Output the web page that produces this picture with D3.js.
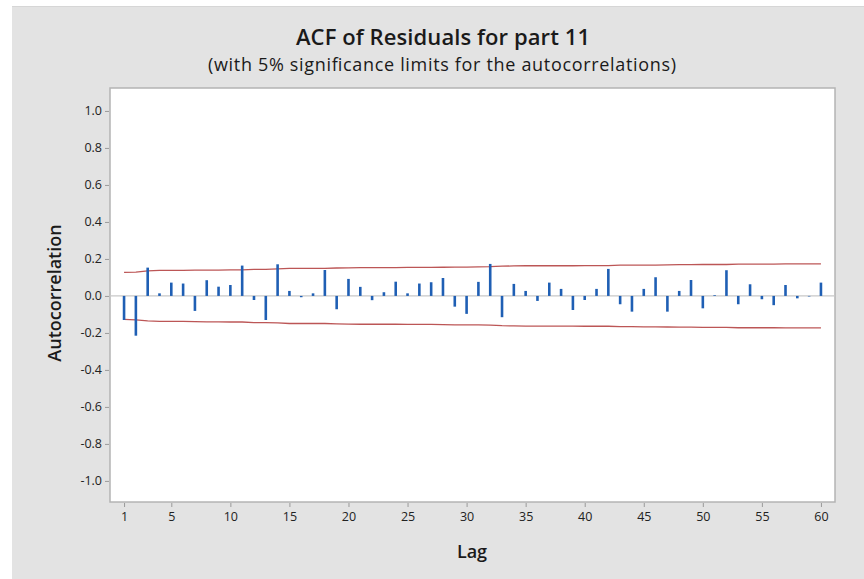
<!DOCTYPE html>
<html>
<head>
<meta charset="utf-8">
<script src="https://cdn.jsdelivr.net/npm/d3@7"></script>
<style>
  html, body { margin: 0; padding: 0; background: #ffffff; }
  svg { display: block; }
  text { font-family: "Open Sans", "Noto Sans", sans-serif; }
</style>
</head>
<body>
<svg id="chart" width="864" height="579"></svg>
<script>
// Residual autocorrelations by lag
const lags = d3.range(1, 61);
const acf = [
  -0.130, -0.215,  0.153,  0.014,  0.072,  0.067, -0.081,  0.085,  0.050,  0.059,
   0.164, -0.022, -0.130,  0.171,  0.027, -0.007,  0.014,  0.140, -0.072,  0.092,
   0.049, -0.023,  0.020,  0.077,  0.014,  0.067,  0.074,  0.097, -0.058, -0.097,
   0.076,  0.173, -0.115,  0.065,  0.027, -0.027,  0.072,  0.038, -0.076, -0.022,
   0.038,  0.146, -0.045, -0.085,  0.038,  0.101, -0.085,  0.027,  0.086, -0.067,
   0.004,  0.139, -0.045,  0.063, -0.018, -0.050,  0.059, -0.013, -0.003,  0.072
];
// 5% significance limit (upper; lower is its negative) at each lag
const limit = [
  0.127, 0.129, 0.135, 0.138, 0.138, 0.138, 0.139, 0.140, 0.140, 0.141,
  0.141, 0.144, 0.144, 0.146, 0.149, 0.149, 0.149, 0.149, 0.151, 0.152,
  0.153, 0.153, 0.153, 0.153, 0.154, 0.154, 0.154, 0.155, 0.156, 0.156,
  0.157, 0.158, 0.161, 0.162, 0.163, 0.163, 0.163, 0.163, 0.163, 0.164,
  0.164, 0.164, 0.166, 0.166, 0.167, 0.167, 0.168, 0.169, 0.169, 0.170,
  0.170, 0.170, 0.172, 0.172, 0.172, 0.172, 0.173, 0.173, 0.173, 0.173
];
const xTicks = [1, 5, 10, 15, 20, 25, 30, 35, 40, 45, 50, 55, 60];
const yTicks = [-1.0, -0.8, -0.6, -0.4, -0.2, 0.0, 0.2, 0.4, 0.6, 0.8, 1.0];

const titleText = "ACF of Residuals for part 11";
const subtitleText = "(with 5% significance limits for the autocorrelations)";
const xLabel = "Lag";
const yLabel = "Autocorrelation";

const svg = d3.select("#chart");
const W = 864, H = 579;
const plot = { left: 110, top: 88, right: 835, bottom: 502 };

// Outer gray frame
svg.append("rect").attr("x", 12).attr("y", 6).attr("width", W - 12).attr("height", H - 6)
  .attr("fill", "#e3e3e3");
svg.append("line").attr("x1", 12).attr("x2", W).attr("y1", 6.5).attr("y2", 6.5)
  .attr("stroke", "#d6d6d6").attr("stroke-width", 1);

const x = d3.scaleLinear().domain([-0.19, 61.19]).range([plot.left, plot.right]);
const y = d3.scaleLinear().domain([-1.114, 1.124]).range([plot.bottom, plot.top]);

// Plot panel
svg.append("rect")
  .attr("x", plot.left).attr("y", plot.top)
  .attr("width", plot.right - plot.left).attr("height", plot.bottom - plot.top)
  .attr("fill", "#ffffff").attr("stroke", "#b4b4b4").attr("stroke-width", 1.5);

// Axes (plain hyphen for negative labels)
const fmt1 = d => d3.format(".1f")(d).replace("\u2212", "-");
const yAxis = d3.axisLeft(y).tickValues(yTicks).tickFormat(fmt1).tickSize(4).tickPadding(3);
const gy = svg.append("g").attr("transform", `translate(${plot.left - 1},0)`).call(yAxis);
const xAxis = d3.axisBottom(x).tickValues(xTicks).tickFormat(d3.format("d")).tickSize(4).tickPadding(5);
const gx = svg.append("g").attr("transform", `translate(0,${plot.bottom + 1})`).call(xAxis);
[gx, gy].forEach(g => {
  g.select(".domain").remove();
  g.selectAll(".tick line").attr("stroke", "#9a9a9a");
  g.selectAll(".tick text").attr("fill", "#222222").style("font-size", "12.5px")
    .style("font-family", "'Open Sans', sans-serif");
});

// Zero reference line
svg.append("line")
  .attr("x1", plot.left).attr("x2", plot.right)
  .attr("y1", y(0)).attr("y2", y(0))
  .attr("stroke", "#c8c8c8").attr("stroke-width", 1.2);

// Significance limits
const limLine = d3.line().x((d, i) => x(lags[i]));
svg.append("path")
  .attr("d", limLine.y(d => y(d))(limit))
  .attr("fill", "none").attr("stroke", "#b03838").attr("stroke-width", 1.3).attr("opacity", 0.85);
svg.append("path")
  .attr("d", limLine.y(d => y(-d))(limit))
  .attr("fill", "none").attr("stroke", "#b03838").attr("stroke-width", 1.3).attr("opacity", 0.85);

// Autocorrelation spikes
svg.append("g").selectAll("line").data(acf).join("line")
  .attr("x1", (d, i) => x(lags[i])).attr("x2", (d, i) => x(lags[i]))
  .attr("y1", y(0)).attr("y2", d => y(d))
  .attr("stroke", "#1f5fb4").attr("stroke-width", 2.6);

// Titles
svg.append("text").attr("x", 443).attr("y", 45).attr("text-anchor", "middle")
  .style("font-size", "22px").style("font-weight", 600).attr("fill", "#1a1a1a")
  .attr("textLength", 294).attr("lengthAdjust", "spacing")
  .text(titleText);
svg.append("text").attr("x", 442).attr("y", 71).attr("text-anchor", "middle")
  .style("font-size", "18px").style("font-weight", 400).attr("fill", "#1a1a1a")
  .attr("textLength", 468).attr("lengthAdjust", "spacing")
  .text(subtitleText);

svg.append("text").attr("x", 472).attr("y", 558).attr("text-anchor", "middle")
  .style("font-size", "18px").style("font-weight", 600).attr("fill", "#1a1a1a")
  .text(xLabel);
svg.append("text").attr("transform", `translate(61,293) rotate(-90)`).attr("text-anchor", "middle")
  .style("font-size", "18px").style("font-weight", 600).attr("fill", "#1a1a1a")
  .text(yLabel);
</script>
</body>
</html>
